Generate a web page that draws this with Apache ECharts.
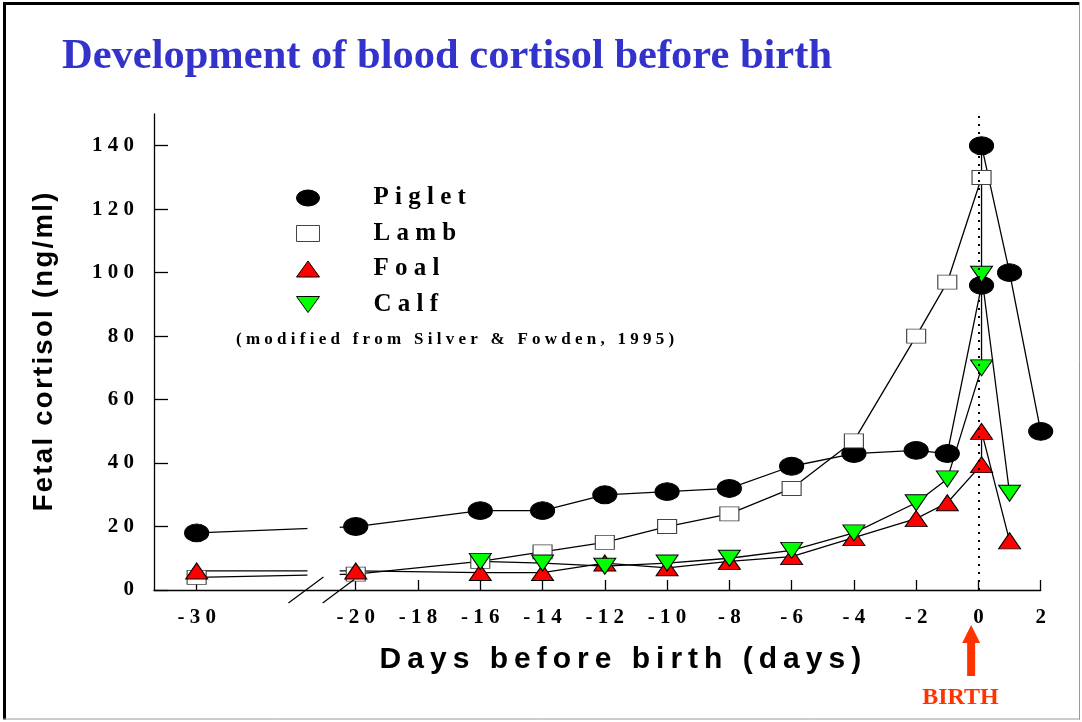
<!DOCTYPE html>
<html><head><meta charset="utf-8">
<script src="https://cdn.jsdelivr.net/npm/echarts@6/dist/echarts.min.js"></script>
<style>html,body{margin:0;padding:0;background:#fff}#c{width:1082px;height:722px}</style>
</head><body><div id="c"></div>
<script>
// ---------------- data ----------------
const titleText = 'Development of blood cortisol before birth';
const seriesNames = ['Piglet', 'Lamb', 'Foal', 'Calf'];
const pigletDays     = [-30, -20, -16, -14, -12, -10, -8, -6, -4, -2, -1, 0.1, 0.1, 1, 2];
const pigletCortisol = [ 18,  20,  25,  25,  30,  31, 32, 39, 43, 44, 43,  96, 140, 100, 50];
const lambDays       = [-30, -20, -16, -14, -12, -10, -8, -6, -4, -2, -1, 0.1];
const lambCortisol   = [  4,   5,   9,  12,  15,  20, 24, 32, 47, 80, 97, 130];
const foalDays       = [-30, -20, -16, -14, -12, -10, -8, -6,   -4,   -2,   -1,  0.1, 0.1, 1];
const foalCortisol   = [  6,   6, 5.5, 5.5, 8.5,   7,  9, 10.5, 16.5, 22.5, 27.5, 39.5, 50, 15.5];
const calfDays       = [-16, -14, -12, -10, -8,   -6, -4,   -2, -1, 0.1,  0.1, 1];
const calfCortisol   = [  9, 8.5, 7.5, 8.5, 10, 12.5, 18, 27.5, 35,  70, 99.5, 30.5];
const xTickDays = [-30, -20, -18, -16, -14, -12, -10, -8, -6, -4, -2, 0, 2];
const yTicks = [0, 20, 40, 60, 80, 100, 120, 140];
const xName = 'Days before birth (days)';
const yName = 'Fetal cortisol (ng/ml)';
const citation = '(modified from Silver & Fowden, 1995)';
const birthLabel = 'BIRTH';

// ---------------- axis break (days before -25 are drawn closer) ----------------
const BREAK_FROM = -25, BREAK_SHIFT = 4.89, BREAK_LEFT = -21.6, BREAK_RIGHT = -20.5;
function axisPos(d) { return d < BREAK_FROM ? d + BREAK_SHIFT : d; }
function dayAt(p) { return Math.round(p < BREAK_LEFT ? p - BREAK_SHIFT : p); }
function spaced(s, sep) { return s.split('').join(sep === undefined ? ' ' : sep); }

const SERIF = '"Liberation Serif","Times New Roman",serif';
const SANS = '"Liberation Sans",Arial,sans-serif';

const looks = {
  Piglet: { symbol: 'circle', icon: 'path://M0,9A12,9 0 1,0 24,9A12,9 0 1,0 0,9Z', size: [24, 18], rotate: 0, color: '#000000', border: '#000000' },
  Lamb:   { symbol: 'rect', icon: 'rect', size: [19, 14], rotate: 0, color: '#ffffff', border: '#444444' },
  Foal:   { symbol: 'triangle', icon: 'triangle', size: [22, 16], rotate: 0, color: '#ff0000', border: '#000000' },
  Calf:   { symbol: 'triangle', icon: 'path://M0,0L22,0L11,16Z', size: [22, 16], rotate: 180, color: '#00ff00', border: '#000000' }
};
const seriesValues = {
  Piglet: [pigletDays, pigletCortisol],
  Lamb: [lambDays, lambCortisol],
  Foal: [foalDays, foalCortisol],
  Calf: [calfDays, calfCortisol]
};

const chart = echarts.init(document.getElementById('c'), null, { renderer: 'canvas' });

const series = seriesNames.map(function (n) {
  const L = looks[n];
  const dv = seriesValues[n];
  const s = {
    name: n,
    type: 'line',
    data: dv[0].map(function (d, i) { return [axisPos(d), dv[1][i]]; }),
    symbol: L.symbol,
    symbolSize: L.size,
    symbolRotate: L.rotate,
    showSymbol: true,
    itemStyle: { color: L.color, borderColor: L.border, borderWidth: 1 },
    lineStyle: { color: '#000', width: 1.3 },
    emphasis: { disabled: true },
    silent: true
  };
  if (n === 'Piglet') {
    s.markLine = {
      silent: true, symbol: 'none', label: { show: false },
      lineStyle: { color: '#000', type: [2, 6], width: 2 },
      data: [{ xAxis: axisPos(0) }]
    };
  }
  return s;
});

chart.setOption({
  animation: false,
  backgroundColor: '#fff',
  title: {
    text: titleText, left: 62, top: 36, padding: 0,
    textStyle: { fontFamily: SERIF, fontWeight: 'bold', fontSize: 42.5, color: '#3333cc' }
  },
  grid: { left: 154, right: 41.3, top: 114, bottom: 132 },
  legend: {
    orient: 'vertical', left: 291, top: 180, itemGap: 9.5, itemWidth: 23, itemHeight: 16,
    symbolKeepAspect: false, selectedMode: false,
    data: seriesNames.map(function (n) {
      const L = looks[n];
      return { name: n, icon: L.icon, itemStyle: { color: L.color, borderColor: L.border, borderWidth: 1 } };
    }),
    formatter: function (n) { return '{g| }' + spaced(n); },
    textStyle: {
      fontFamily: SERIF, fontWeight: 'bold', fontSize: 25, color: '#000', lineHeight: 26,
      rich: { g: { width: 49 } }
    }
  },
  xAxis: {
    type: 'value', min: -26.48, max: 2,
    axisLine: { show: true, onZero: false, lineStyle: { color: '#000', width: 1.3 } },
    axisTick: { show: true, inside: true, length: 10, customValues: xTickDays.map(axisPos), lineStyle: { color: '#000', width: 1.3 } },
    axisLabel: {
      customValues: xTickDays.map(axisPos), margin: 17,
      formatter: function (v) { return spaced(String(dayAt(v))); },
      fontFamily: SERIF, fontWeight: 'bold', fontSize: 21, color: '#000'
    },
    splitLine: { show: false },
    name: spaced(xName, '\u2009'), nameLocation: 'middle', nameGap: 55,
    nameTextStyle: { fontFamily: SANS, fontWeight: 'bold', fontSize: 30, color: '#000', padding: [0, 0, 0, 46] }
  },
  yAxis: {
    type: 'value', min: 0, max: 150,
    axisLine: { show: true, onZero: false, lineStyle: { color: '#000', width: 1.3 } },
    axisTick: { show: true, inside: true, length: 14, customValues: yTicks, lineStyle: { color: '#000', width: 1.3 } },
    axisLabel: {
      customValues: yTicks, margin: 20,
      formatter: function (v) { return spaced(String(v)); },
      fontFamily: SERIF, fontWeight: 'bold', fontSize: 21, color: '#000'
    },
    splitLine: { show: false },
    name: spaced(yName, '\u200A'), nameLocation: 'middle', nameGap: 96, nameRotate: 90,
    nameTextStyle: { fontFamily: SANS, fontWeight: 'bold', fontSize: 27.5, color: '#000' }
  },
  series: series
});

// ---------------- decorations positioned through the axes ----------------
function px(x, y) { return chart.convertToPixel({ gridIndex: 0 }, [x, y]); }
const pL = px(BREAK_LEFT, 0), pR = px(BREAK_RIGHT, 0);
const axisY = pL[1];
const maskTop = px(BREAK_LEFT, 40)[1], maskBottom = px(BREAK_LEFT, 1)[1];
const x0 = px(axisPos(0), 0)[0];
const ax = x0 - 7.3;
const W = chart.getWidth(), H = chart.getHeight();

chart.setOption({
  graphic: [
    { type: 'rect', z: 10, silent: true,
      shape: { x: pL[0] + 1.5, y: maskTop, width: pR[0] - pL[0] - 2, height: maskBottom - maskTop },
      style: { fill: '#fff' } },
    { type: 'line', z: 11, silent: true,
      shape: { x1: pL[0] - 17.5, y1: axisY + 13, x2: pL[0] + 17.5, y2: axisY - 13 },
      style: { stroke: '#000', lineWidth: 1.2 } },
    { type: 'line', z: 11, silent: true,
      shape: { x1: pR[0] - 17.5, y1: axisY + 13, x2: pR[0] + 14, y2: axisY - 10.4 },
      style: { stroke: '#000', lineWidth: 1.2 } },
    { type: 'polygon', z: 11, silent: true,
      shape: { points: [[ax, axisY + 35], [ax - 9, axisY + 53], [ax - 4, axisY + 53], [ax - 4, axisY + 86],
                        [ax + 4, axisY + 86], [ax + 4, axisY + 53], [ax + 9, axisY + 53]] },
      style: { fill: '#ff3300' } },
    { type: 'text', z: 11, silent: true, x: x0 - 18, y: axisY + 96,
      style: { text: birthLabel, fill: '#ff3300', fontFamily: SERIF, fontWeight: 'bold', fontSize: 24,
               align: 'center', verticalAlign: 'top' } },
    { type: 'text', z: 11, silent: true, x: 236, y: 331,
      style: { text: spaced(citation), fill: '#000', fontFamily: SERIF, fontWeight: 'bold', fontSize: 17,
               align: 'left', verticalAlign: 'top' } },
    { type: 'line', z: 20, silent: true, shape: { x1: 4.5, y1: 2, x2: 4.5, y2: H - 2.5 }, style: { stroke: '#000', lineWidth: 3 } },
    { type: 'line', z: 20, silent: true, shape: { x1: 3, y1: 3.5, x2: W - 2, y2: 3.5 }, style: { stroke: '#000', lineWidth: 3 } },
    { type: 'line', z: 20, silent: true, shape: { x1: W - 2.5, y1: 2, x2: W - 2.5, y2: H - 2.5 }, style: { stroke: '#999', lineWidth: 1 } },
    { type: 'line', z: 20, silent: true, shape: { x1: 3, y1: H - 3, x2: W - 2, y2: H - 3 }, style: { stroke: '#999', lineWidth: 1 } }
  ]
});
</script>
</body></html>
